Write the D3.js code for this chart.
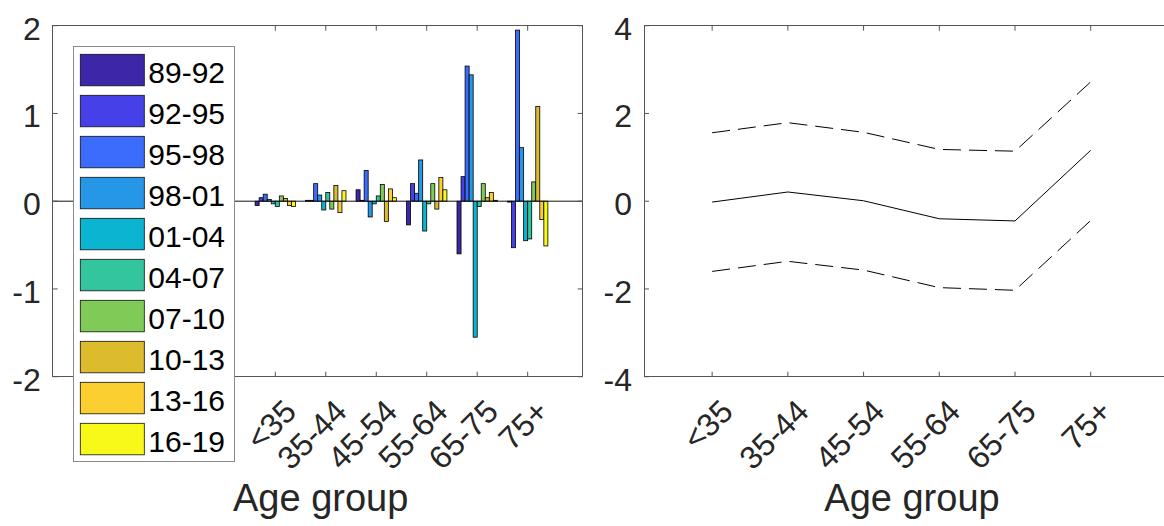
<!DOCTYPE html>
<html><head><meta charset="utf-8">
<script src="https://cdn.jsdelivr.net/npm/d3@7/dist/d3.min.js"></script>
<style>
html,body{margin:0;padding:0;background:#fff;}
svg{display:block;font-family:"Liberation Sans",Arial,Helvetica,sans-serif;}
</style></head>
<body>
<svg id="chart" width="1164" height="526"></svg>
<script>
// ---------- data ----------
const categories = ["<35","35-44","45-54","55-64","65-75","75+"];
const periods = ["89-92","92-95","95-98","98-01","01-04","04-07","07-10","10-13","13-16","16-19"];
const periodColors = ["#3d26a8","#4640e8","#3c6cfb","#2696e6","#0bb4d0","#33c59e","#80cb58","#dcbb2c","#fccf30","#f9f919"];
// values per period, one entry per age group
const v89_92 = [-0.05, 0.01, 0.13, -0.27, -0.60, -0.01];
const v92_95 = [ 0.04, 0.01, 0.01,  0.20,  0.28, -0.53];
const v95_98 = [ 0.08, 0.20, 0.35,  0.09,  1.54,  1.95];
const v98_01 = [ 0.02, 0.07,-0.18,  0.47,  1.44,  0.61];
const v01_04 = [-0.03,-0.10,-0.03, -0.34, -1.55, -0.45];
const v04_07 = [-0.06, 0.10, 0.06, -0.03, -0.06, -0.43];
const v07_10 = [ 0.06,-0.09, 0.19,  0.20,  0.20,  0.22];
const v10_13 = [ 0.03, 0.18,-0.23, -0.09,  0.04,  1.08];
const v13_16 = [-0.05,-0.13, 0.14,  0.27,  0.10, -0.21];
const v16_19 = [-0.06, 0.12, 0.04,  0.13,  0.01, -0.51];
const barSeries = [v89_92,v92_95,v95_98,v98_01,v01_04,v04_07,v07_10,v10_13,v13_16,v16_19];

const meanLine  = [-0.02, 0.21, 0.01, -0.40, -0.45, 1.16];
const upperLine = [ 1.56, 1.79, 1.57,  1.18,  1.14, 2.72];
const lowerLine = [-1.60,-1.37,-1.57, -1.97, -2.03,-0.44];

const leftYTicks = [-2,-1,0,1,2];
const rightYTicks = [-4,-2,0,2,4];
const xLabel = "Age group";

// ---------- layout ----------
const svg = d3.select("#chart");
const axisColor = "#555";
const textColor = "#262626";
const plotTop = 25.7, plotBottom = 376.7;
const tickLen = 5;
const tickFont = 32, legendFont = 30, labelFont = 38;

function drawFrame(g, x, y, x0, x1, yTicks, xPositions){
  g.append("rect").attr("x",x0).attr("y",plotTop).attr("width",x1-x0).attr("height",plotBottom-plotTop)
    .attr("fill","none").attr("stroke",axisColor).attr("stroke-width",1).attr("shape-rendering","crispEdges");
  yTicks.forEach(t=>{
    const yy = y(t);
    g.append("line").attr("x1",x0).attr("x2",x0+tickLen).attr("y1",yy).attr("y2",yy).attr("stroke",axisColor);
    g.append("line").attr("x1",x1).attr("x2",x1-tickLen).attr("y1",yy).attr("y2",yy).attr("stroke",axisColor);
    g.append("text").attr("x",x0-12).attr("y",yy+3).attr("text-anchor","end")
      .attr("dominant-baseline","central").attr("font-size",tickFont).attr("fill",textColor).text(t);
  });
  xPositions.forEach((p,i)=>{
    const xx = x(p);
    g.append("line").attr("x1",xx).attr("x2",xx).attr("y1",plotBottom).attr("y2",plotBottom-tickLen).attr("stroke",axisColor);
    g.append("line").attr("x1",xx).attr("x2",xx).attr("y1",plotTop).attr("y2",plotTop+tickLen).attr("stroke",axisColor);
    g.append("text").attr("transform",`translate(${xx+15},${plotBottom+29}) rotate(-45)`)
      .attr("text-anchor","end").attr("dominant-baseline","central")
      .attr("font-size",tickFont).attr("fill",textColor).text(categories[i]);
  });
  g.append("text").attr("x",(x0+x1)/2+3).attr("y",511).attr("text-anchor","middle")
    .attr("font-size",labelFont).attr("fill",textColor).text(xLabel);
}

const positions = categories.map((c,i)=>i+1);

// ---------- left panel: grouped bars ----------
const L0 = 52.7, L1 = 582.7;
const xL = d3.scaleLinear().domain([-3.41, 7.09]).range([L0, L1]);
const yL = d3.scaleLinear().domain([-2, 2]).range([plotBottom, plotTop]);
const gL = svg.append("g");
const groupWidth = 0.8, nS = periods.length, slot = groupWidth/nS;
const barsG = gL.append("g");
barSeries.forEach((vals, s)=>{
  barsG.selectAll(null).data(vals).enter().append("rect")
    .attr("x",(d,i)=>xL(positions[i] - groupWidth/2 + s*slot))
    .attr("width", xL(slot) - xL(0))
    .attr("y", d=>yL(Math.max(0,d)))
    .attr("height", d=>Math.abs(yL(d)-yL(0)))
    .attr("fill", periodColors[s]).attr("stroke","#000").attr("stroke-width",0.8);
});
gL.append("line").attr("x1",L0).attr("x2",L1).attr("y1",yL(0)).attr("y2",yL(0)).attr("stroke","#111").attr("stroke-width",1);
drawFrame(gL, xL, yL, L0, L1, leftYTicks, positions);

// legend
const lg = gL.append("g");
const lgX = 73.3, lgY = 46.7, lgW = 161, lgH = 414.5;
lg.append("rect").attr("x",lgX).attr("y",lgY).attr("width",lgW).attr("height",lgH)
  .attr("fill","#fff").attr("stroke","#8a8a8a").attr("stroke-width",1).attr("shape-rendering","crispEdges");
periods.forEach((p,k)=>{
  const yy = 54.3 + k*41;
  lg.append("rect").attr("x",80.3).attr("y",yy).attr("width",64).attr("height",31.5)
    .attr("fill",periodColors[k]).attr("stroke","#111").attr("stroke-width",0.8);
  lg.append("text").attr("x",148.3).attr("y",yy+16+2).attr("dominant-baseline","central")
    .attr("font-size",legendFont).attr("fill","#000").text(p);
});

// ---------- right panel: lines ----------
const R0 = 644, R1 = 1174;
const xR = d3.scaleLinear().domain([0.1, 7.1]).range([R0, R1]);
const yR = d3.scaleLinear().domain([-4, 4]).range([plotBottom, plotTop]);
const gR = svg.append("g");
drawFrame(gR, xR, yR, R0, R1, rightYTicks, positions);
const line = d3.line().x((d,i)=>xR(positions[i])).y(d=>yR(d));
gR.append("path").attr("d",line(meanLine)).attr("fill","none").attr("stroke","#000").attr("stroke-width",1);
[upperLine, lowerLine].forEach(arr=>{
  gR.append("path").attr("d",line(arr)).attr("fill","none").attr("stroke","#000").attr("stroke-width",1)
    .attr("stroke-dasharray","18,8");
});
</script>
</body></html>
